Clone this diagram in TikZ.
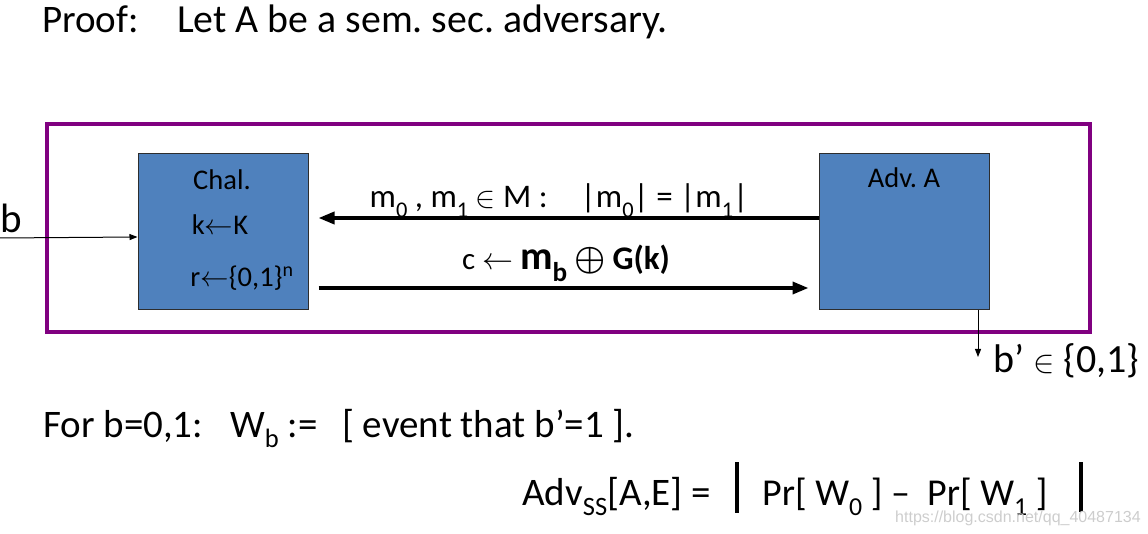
\RequirePackage{fix-cm}
\documentclass[tikz,border=0pt]{standalone}
\usepackage{fontspec}
\setmainfont{Carlito}
\newfontfamily\wmfont{Liberation Sans}
\usetikzlibrary{arrows.meta}
\definecolor{boxblue}{RGB}{79,129,189}
\definecolor{boxedge}{RGB}{45,45,45}
\definecolor{framepurple}{RGB}{128,0,128}
\definecolor{wmgray}{RGB}{205,205,205}
\newcommand\dnsub[1]{\raisebox{-0.28em}{\scalebox{0.68}{#1}}}
\frenchspacing
\begin{document}
\begin{tikzpicture}[x=1pt,y=-1pt,
  txt/.style={inner sep=0pt, anchor=base west, font=\fontsize{39}{44}\selectfont},
  boxtxt/.style={inner sep=0pt, anchor=base, font=\fontsize{28.5}{32}\selectfont},
  lbl/.style={inner sep=0pt, anchor=base, font=\fontsize{33}{38}\selectfont},
  party/.style={draw=boxedge, line width=1pt, fill=boxblue, minimum width=170pt, minimum height=156pt, inner sep=0pt},
  msg/.style={line width=3.5pt, -{Triangle[length=16pt,width=12pt]}},
  wire/.style={line width=1pt, -{Triangle[length=8pt,width=6pt]}},
  bar/.style={line width=4pt}
]
\useasboundingbox (0,0) rectangle (1148,534);
\node[txt] (proof) at (42,33) {Proof:};
\node[txt, font=\fontsize{39.8}{44}\selectfont] (let) at (177,33) {Let A be a sem. sec. adversary.};
\node[draw=framepurple, line width=4pt, minimum width=1043pt, minimum height=208pt, inner sep=0pt] (frame) at (568.5,228) {};
\node[party] (chal) at (223,232) {};
\node[party] (adv) at (904,232) {};
\node[boxtxt] (chaltitle) at (222,190) {Chal.};
\node[boxtxt] (key) at (220,235) {k$\leftarrow$K};
\node[boxtxt] (rand) at (242,287) {r$\leftarrow$\{0,1\}\textsuperscript{n}};
\node[boxtxt] (advtitle) at (904,188) {Adv. A};
\draw[msg] ([yshift=14pt]adv.west) -- ([xshift=10pt,yshift=14pt]chal.east);
\draw[msg] ([xshift=10pt,yshift=-56pt]chal.east) -- ([xshift=-10pt,yshift=-56pt]adv.west);
\node[lbl] (query) at (559,208) {m\dnsub{0} , m\dnsub{1} {\fontsize{30}{34}\selectfont$\in$} M :\quad |m\dnsub{0}| = |m\dnsub{1}|};
\node[inner sep=0pt, anchor=base] (ctext) at (566,270) {\fontsize{31}{36}\selectfont c $\leftarrow$ {\fontsize{40}{44}\selectfont\bfseries m\dnsub{b}} {\fontsize{35}{38}\selectfont\boldmath$\oplus$} {\fontsize{33}{36}\selectfont\bfseries G(k)}};
\node[txt, font=\fontsize{41}{46}\selectfont] (bin) at (0,233) {b};
\coordinate (bstart) at (0,238);
\draw[wire] (bstart) -- ([yshift=-5pt]chal.west);
\coordinate (bout) at (978,357);
\draw[wire] (adv.south east -| bout) -- (bout);
\node[txt, font=\fontsize{40}{44}\selectfont] (bprime) at (993,373) {b’ {\fontsize{32}{36}\selectfont$\in$} \{0,1\}};
\node[txt] (forb) at (43,437) {For b=0,1:};
\node[txt] (wdef) at (230,437) {W\dnsub{b} :=};
\node[txt] (event) at (342,437) {[ event that b’=1 ].};
\node[txt] (advss) at (522,505) {Adv\dnsub{SS}[A,E] =};
\coordinate (b1t) at (737,462);
\coordinate (b1b) at (737,513);
\draw[bar] (b1t) -- (b1b);
\node[txt, font=\fontsize{38}{42}\selectfont] (prs) at (762,505) {Pr[ W\dnsub{0} ] \textendash\ \ Pr[ W\dnsub{1} ]};
\coordinate (b2t) at (1081,462);
\coordinate (b2b) at (1081,512);
\draw[bar] (b2t) -- (b2b);
\node[inner sep=0pt, anchor=base west, font=\wmfont\fontsize{16}{18}\selectfont, text=wmgray] (wm) at (895,522) {https://blog.csdn.net/qq\_40487134};
\end{tikzpicture}
\end{document}
